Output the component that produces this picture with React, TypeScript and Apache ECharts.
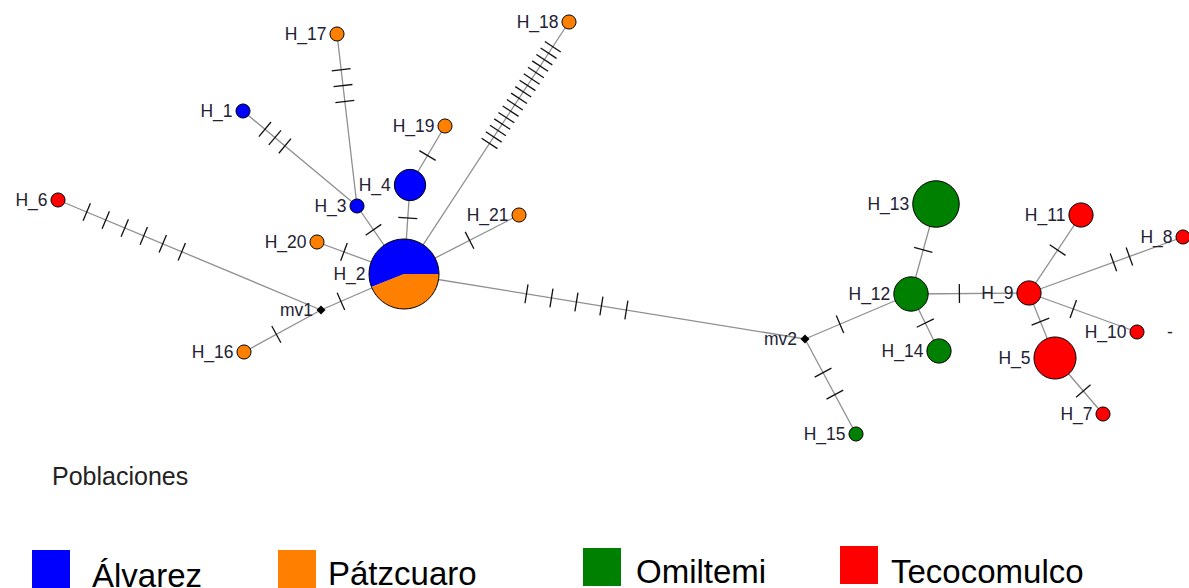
import React, { useEffect, useRef } from "react";
import * as echarts from "echarts";

// Haplotypes (H_*) and median vectors (mv*)
const haplotypes = [
  "H_1", "H_2", "H_3", "H_4", "H_5", "H_6", "H_7", "H_8", "H_9", "H_10", "H_11",
  "H_12", "H_13", "H_14", "H_15", "H_16", "H_17", "H_18", "H_19", "H_20", "H_21",
  "mv1", "mv2",
];

// Sample counts per population for each haplotype
const alvarez =     [1, 14, 1, 5, 0, 0, 0, 0, 0, 0, 0, 0, 0, 0, 0, 0, 0, 0, 0, 0, 0, 0, 0];
const patzcuaro =   [0, 11, 0, 0, 0, 0, 0, 0, 0, 0, 0, 0, 0, 0, 0, 1, 1, 1, 1, 1, 1, 0, 0];
const omiltemi =    [0, 0, 0, 0, 0, 0, 0, 0, 0, 0, 0, 6, 11, 3, 1, 0, 0, 0, 0, 0, 0, 0, 0];
const tecocomulco = [0, 0, 0, 0, 9, 1, 1, 1, 3, 1, 3, 0, 0, 0, 0, 0, 0, 0, 0, 0, 0, 0, 0];

const populationNames = ["Álvarez", "Pátzcuaro", "Omiltemi", "Tecocomulco"];
const populationCounts = [alvarez, patzcuaro, omiltemi, tecocomulco];

// Network layout coordinates of each node
const layoutX = [243, 404, 357, 410, 1055, 58, 1103, 1183, 1029, 1137, 1081, 911, 936, 939, 856, 244, 337, 569, 445, 317, 519, 321, 805];
const layoutY = [111, 274, 206, 185, 358, 200, 414, 237, 293, 332, 215, 294, 204, 351, 434, 352, 34, 22, 126, 242, 215, 310, 339];

// Network edges and number of mutational steps on each
const edgeFrom = ["H_1", "H_17", "H_3", "H_4", "H_19", "H_18", "H_20", "H_21", "mv1", "H_16", "H_6", "H_2", "mv2", "mv2", "H_13", "H_12", "H_12", "H_9", "H_9", "H_9", "H_9", "H_5"];
const edgeTo =   ["H_3", "H_3", "H_2", "H_2", "H_4", "H_2", "H_2", "H_2", "H_2", "mv1", "mv1", "mv2", "H_15", "H_12", "H_12", "H_14", "H_9", "H_11", "H_8", "H_10", "H_5", "H_7"];
const mutations = [3, 3, 1, 1, 1, 16, 1, 1, 1, 1, 6, 5, 2, 1, 1, 1, 1, 1, 2, 1, 1, 1];

// Where the hatch marks sit along each edge (fraction from the source node) and their spacing in px
const hatchAt =  [0.28, 0.3, 0.35, 0.37, 0.5, 0.29, 0.31, 0.43, 0.24, 0.42, 0.29, 0.43, 0.47, 0.33, 0.51, 0.51, 0.41, 0.55, 0.6, 0.41, 0.44, 0.59];
const hatchGap = [13, 16, 10, 10, 10, 7.7, 10, 10, 10, 10, 20.6, 25.3, 25, 10, 10, 10, 10, 10, 17, 10, 10, 10];

const POP_COLORS = ["#0000ff", "#ff8000", "#008000", "#ff0000"];
const UNIT_RADIUS = 7;
const HATCH_LEN = 19;
const LABEL_FONT = '17.5px "Liberation Sans", Arial, sans-serif';
const LABEL_COLOR = "#222233";

// Legend placement
const legendBoxX = [32, 278, 583, 840];
const legendBoxY = [550, 550, 548, 546];
const legendTextX = [92, 328, 636, 891];
const legendTextY = [575, 573, 571, 571];

export default function App() {
  const ref = useRef<HTMLDivElement>(null);

  useEffect(() => {
    document.body.style.margin = "0";
    document.body.style.overflow = "hidden";
    const chart = echarts.init(ref.current!, null, { renderer: "svg" });

    const idx = (name: string) => haplotypes.indexOf(name);

    const edgeData = edgeFrom.map((from, i) => {
      const a = idx(from);
      const b = idx(edgeTo[i]);
      return [layoutX[a], layoutY[a], layoutX[b], layoutY[b], mutations[i], hatchAt[i], hatchGap[i]];
    });

    const nodeData = haplotypes.map((_, i) => [layoutX[i], layoutY[i]]);

    const renderEdge = (params: any, api: any) => {
      const p1 = api.coord([api.value(0), api.value(1)]);
      const p2 = api.coord([api.value(2), api.value(3)]);
      const k = api.value(4) as number;
      const t = api.value(5) as number;
      const gap = api.value(6) as number;
      const dx = p2[0] - p1[0];
      const dy = p2[1] - p1[1];
      const len = Math.sqrt(dx * dx + dy * dy);
      const ux = dx / len;
      const uy = dy / len;
      const nx = -uy;
      const ny = ux;
      const children: any[] = [
        {
          type: "line",
          shape: { x1: p1[0], y1: p1[1], x2: p2[0], y2: p2[1] },
          style: { stroke: "#8f8f8f", lineWidth: 1.3 },
        },
      ];
      for (let m = 0; m < k; m++) {
        const s = t * len + (m - (k - 1) / 2) * gap;
        const cx = p1[0] + ux * s;
        const cy = p1[1] + uy * s;
        children.push({
          type: "line",
          shape: {
            x1: cx - (nx * HATCH_LEN) / 2,
            y1: cy - (ny * HATCH_LEN) / 2,
            x2: cx + (nx * HATCH_LEN) / 2,
            y2: cy + (ny * HATCH_LEN) / 2,
          },
          style: { stroke: "#111111", lineWidth: 1.3 },
        });
      }
      return { type: "group", children };
    };

    const renderNode = (params: any, api: any) => {
      const i = params.dataIndex;
      const [cx, cy] = api.coord([api.value(0), api.value(1)]);
      const counts = populationCounts.map((c) => c[i]);
      const total = counts.reduce((s, v) => s + v, 0);
      const children: any[] = [];
      let r: number;
      if (total === 0) {
        r = 4.5;
        children.push({
          type: "polygon",
          shape: { points: [[cx, cy - r], [cx + r, cy], [cx, cy + r], [cx - r, cy]] },
          style: { fill: "#000000" },
        });
      } else {
        r = UNIT_RADIUS * Math.sqrt(total);
        const present = counts.map((c, p) => ({ c, p })).filter((d) => d.c > 0);
        if (present.length === 1) {
          children.push({
            type: "circle",
            shape: { cx, cy, r },
            style: { fill: POP_COLORS[present[0].p], stroke: "#000000", lineWidth: 1 },
          });
        } else {
          // slices run counter-clockwise from the 3 o'clock direction
          let cursor = 0;
          present.forEach((d) => {
            const theta = (2 * Math.PI * d.c) / total;
            children.push({
              type: "sector",
              shape: { cx, cy, r, r0: 0, startAngle: cursor - theta, endAngle: cursor, clockwise: true },
              style: { fill: POP_COLORS[d.p] },
            });
            cursor -= theta;
          });
          children.push({
            type: "circle",
            shape: { cx, cy, r },
            style: { fill: "none", stroke: "#000000", lineWidth: 1 },
          });
        }
      }
      children.push({
        type: "text",
        style: {
          text: haplotypes[i],
          x: cx - r - 3.5,
          y: cy,
          textAlign: "right",
          textVerticalAlign: "middle",
          font: LABEL_FONT,
          fill: LABEL_COLOR,
        },
      });
      return { type: "group", children };
    };

    const legendGraphics: any[] = [];
    populationNames.forEach((name, p) => {
      legendGraphics.push({
        type: "rect",
        shape: { x: legendBoxX[p], y: legendBoxY[p], width: 38, height: 38 },
        style: { fill: POP_COLORS[p] },
      });
      legendGraphics.push({
        type: "text",
        style: {
          text: name,
          x: legendTextX[p],
          y: legendTextY[p],
          textVerticalAlign: "middle",
          font: '33px "Liberation Sans", Arial, sans-serif',
          fill: "#000000",
        },
      });
    });

    const option: any = {
      animation: false,
      backgroundColor: "#ffffff",
      grid: { left: 0, right: 0, top: 0, bottom: 0 },
      xAxis: { type: "value", min: 0, max: 1189, show: false },
      yAxis: { type: "value", min: 0, max: 588, inverse: true, show: false },
      graphic: [
        {
          type: "text",
          style: {
            text: "Poblaciones",
            x: 52,
            y: 476,
            textVerticalAlign: "middle",
            font: '25px "Liberation Sans", Arial, sans-serif',
            fill: "#222222",
          },
        },
        {
          type: "text",
          style: {
            text: "-",
            x: 1170,
            y: 332,
            textAlign: "center",
            textVerticalAlign: "middle",
            font: LABEL_FONT,
            fill: "#222222",
          },
        },
        ...legendGraphics,
      ],
      series: [
        {
          type: "custom",
          name: "edges",
          data: edgeData,
          encode: { x: [0, 2], y: [1, 3] },
          renderItem: renderEdge,
          clip: false,
          silent: true,
          z: 1,
        },
        {
          type: "custom",
          name: "nodes",
          data: nodeData,
          encode: { x: 0, y: 1 },
          renderItem: renderNode,
          clip: false,
          silent: true,
          z: 2,
        },
      ],
    };

    chart.setOption(option);
    return () => chart.dispose();
  }, []);

  return <div ref={ref} style={{ width: 1189, height: 588 }} />;
}
